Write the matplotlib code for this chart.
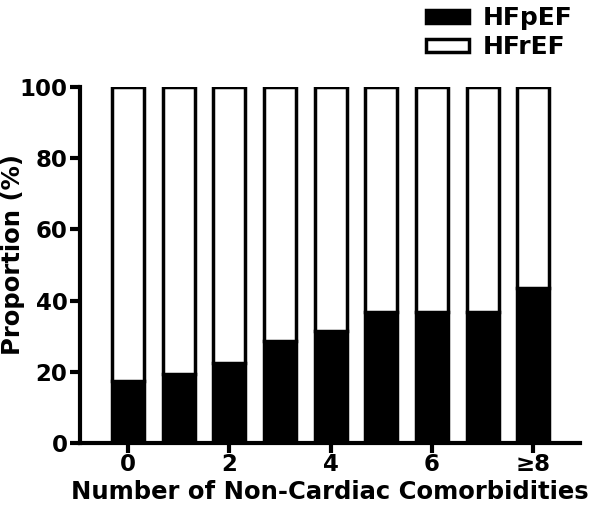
import numpy as np
import matplotlib.pyplot as plt

plt.rcParams['font.family'] = ['DejaVu Sans']
plt.rcParams['font.weight'] = 'bold'

categories = ['0', '1', '2', '3', '4', '5', '6', '7', '\u22658']
hfpef = [17.5, 19.6, 22.6, 28.7, 31.6, 36.8, 36.8, 36.8, 43.7]
hfref = [100 - v for v in hfpef]
tick_idx = [0, 2, 4, 6, 8]

fig = plt.figure(figsize=(6.01, 5.05), dpi=100)
ax = fig.add_axes([0.133, 0.122, 0.832, 0.706])

x = np.arange(len(categories))
w = 0.63
ax.bar(x, hfpef, w, color='black', edgecolor='black', linewidth=2.5, label='HFpEF')
ax.bar(x, hfref, w, bottom=hfpef, color='white', edgecolor='black', linewidth=2.5, label='HFrEF')

ax.set_xlim(-0.95, 8.92)
ax.set_ylim(0, 100)
ax.set_yticks([0, 20, 40, 60, 80, 100])
ax.set_xticks(tick_idx)
ax.set_xticklabels([categories[i] for i in tick_idx])

for s in ['top', 'right']:
    ax.spines[s].set_visible(False)
for s in ['left', 'bottom']:
    ax.spines[s].set_linewidth(3)
ax.tick_params(width=3, length=7, labelsize=16.5, pad=2)
ax.tick_params(axis='x', pad=0)

ax.set_ylabel('Proportion (%)', fontsize=17.5, fontweight='bold')
ax.yaxis.set_label_coords(-0.11, 0.53)
ax.set_xlabel('Number of Non-Cardiac Comorbidities', fontsize=17.5, fontweight='bold', labelpad=3)

fig.legend(loc='upper left', bbox_to_anchor=(0.672, 1.032), frameon=False,
           fontsize=18, handlelength=1.7, handleheight=0.45, handletextpad=0.55, labelspacing=0.2)

fig.savefig('out.png', dpi=100)
